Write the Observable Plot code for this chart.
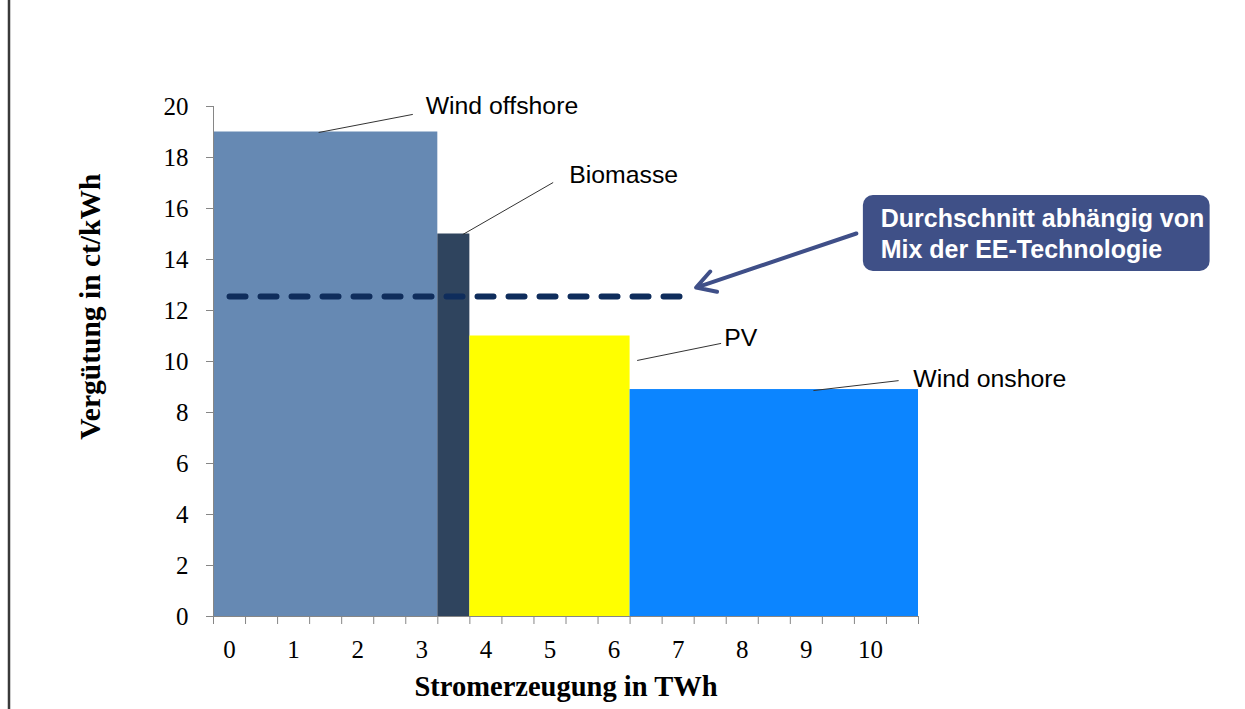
<!DOCTYPE html>
<html>
<head>
<meta charset="utf-8">
<script src="https://cdn.jsdelivr.net/npm/d3@7"></script>
<script src="https://cdn.jsdelivr.net/npm/@observablehq/plot@0.6"></script>
<style>
  html, body { margin: 0; padding: 0; background: #fff; }
  #wrap { position: relative; width: 1245px; height: 709px; overflow: hidden; }
  #border { position: absolute; left: 8px; top: 0; width: 2px; height: 709px; background: #3a3a3a; box-shadow: 0 0 0 0.5px #999; }
  svg { position: absolute; left: 0; top: 0; }
</style>
</head>
<body>
<div id="wrap"><div id="border"></div></div>
<script>
// ---- data ----
const techs = ["Wind offshore", "Biomasse", "PV", "Wind onshore"];
const startTWh = [-0.25, 3.25, 3.75, 6.25];
const endTWh = [3.25, 3.75, 6.25, 10.75];
const verguetung = [19, 15, 11, 8.9];
const techColors = ["#6689B3", "#2F445E", "#FFFF00", "#0C85FF"];

const durchschnitt = 12.55;          // average line (ct/kWh)
const durchschnittRange = [0, 7.03]; // TWh span of the dashed line

const xTickLabels = [0, 1, 2, 3, 4, 5, 6, 7, 8, 9, 10];
const yTickLabels = [0, 2, 4, 6, 8, 10, 12, 14, 16, 18, 20];

// label annotations: [labelX, labelY, leaderFromX, leaderFromY, leaderToX, leaderToY]
const labelPos = [
  [3.06, 20.0, 1.39, 18.98, 2.86, 19.69],
  [5.30, 17.33, 3.64, 14.98, 5.05, 17.02],
  [7.72, 10.9, 6.36, 10.04, 7.67, 10.71],
  [10.67, 9.33, 9.11, 8.86, 10.44, 9.25]
];

const calloutLines = ["Durchschnitt abhängig von", "Mix der EE-Technologie"];

// ---- build tables ----
const bars = techs.map((t, i) => ({tech: t, x1: startTWh[i], x2: endTWh[i], y: verguetung[i], color: techColors[i]}));
const labels = techs.map((t, i) => ({tech: t, lx: labelPos[i][0], ly: labelPos[i][1],
  fx: labelPos[i][2], fy: labelPos[i][3], tx: labelPos[i][4], ty: labelPos[i][5]}));
const xTickMarks = d3.range(-0.25, 10.76, 0.5);

const sans = "Liberation Sans, Arial, sans-serif";
const serif = "Liberation Serif, Times New Roman, serif";

const chart = Plot.plot({
  width: 1245,
  height: 709,
  marginLeft: 213,
  marginRight: 327,
  marginTop: 106,
  marginBottom: 93,
  style: {fontFamily: serif, fontSize: "25px", color: "#000", background: "transparent", overflow: "visible"},
  x: {domain: [-0.25, 10.75]},
  y: {domain: [0, 20]},
  marks: [
    Plot.rectY(bars, {x1: "x1", x2: "x2", y1: 0, y2: "y", fill: "color"}),
    // axis lines
    Plot.ruleX([-0.25], {y1: 0, y2: 20, stroke: "#868686"}),
    Plot.ruleY([0], {x1: -0.25, x2: 10.75, stroke: "#868686"}),
    // y axis ticks + labels
    Plot.axisY({ticks: yTickLabels, tickSize: 7, tickFormat: () => "", stroke: "#868686", label: null}),
    Plot.axisY({ticks: yTickLabels, tickSize: 0, tickPadding: 25, fill: "#000", fontFamily: serif, fontSize: 25, label: null}),
    // x axis ticks + labels
    Plot.axisX({ticks: xTickMarks, tickSize: 8, tickFormat: () => "", stroke: "#868686", label: null}),
    Plot.axisX({ticks: xTickLabels, tickSize: 0, tickPadding: 24, fill: "#000", fontFamily: serif, fontSize: 25, label: null}),
    // axis titles
    Plot.text(["Stromerzeugung in TWh"], {frameAnchor: "bottom", dy: 79, fontFamily: serif, fontWeight: "bold", fontSize: 28.5, fill: "#000"}),
    Plot.text(["Vergütung in ct/kWh"], {x: [-2.17], y: [12.15], text: d => d, rotate: -90, fontFamily: serif, fontWeight: "bold", fontSize: 29.5, fill: "#000"}),
    // dashed average line
    Plot.link([durchschnitt], {x1: durchschnittRange[0], x2: durchschnittRange[1], y1: d => d, y2: d => d,
      stroke: "#0F2D5C", strokeWidth: 6, strokeDasharray: "16,15", strokeLinecap: "round"}),
    // leader lines and labels
    Plot.link(labels, {x1: "fx", y1: "fy", x2: "tx", y2: "ty", stroke: "#333", strokeWidth: 1}),
    Plot.text(labels, {x: "lx", y: "ly", text: "tech", textAnchor: "start", fontFamily: sans, fontSize: 24.8, fill: "#000"}),
    // callout box
    Plot.rect([0], {x1: 9.89, x2: 15.30, y1: 16.51, y2: 13.53, rx: 10, fill: "#3F5087"}),
    Plot.text(calloutLines, {x: 10.16, y: (d, i) => [15.57, 14.39][i], text: d => d, textAnchor: "start",
      fontFamily: sans, fontWeight: "bold", fontSize: 25, fill: "#fff"}),
    Plot.arrow([0], {x1: 9.78, y1: 15.02, x2: 7.28, y2: 12.90, stroke: "#3F4F88", strokeWidth: 4, headLength: 8})
  ]
});
document.getElementById("wrap").appendChild(chart);
</script>
</body>
</html>
